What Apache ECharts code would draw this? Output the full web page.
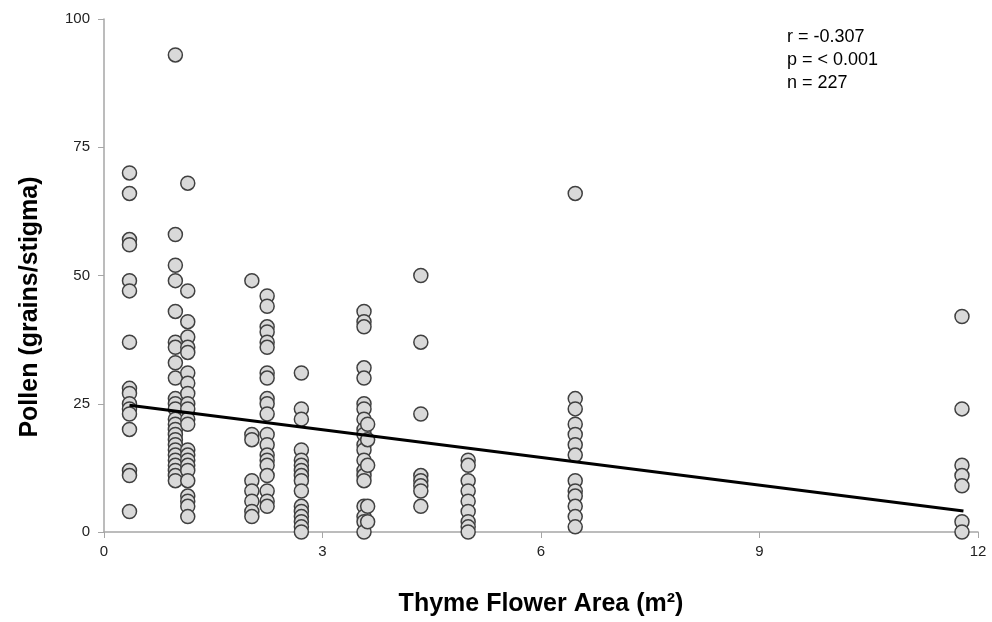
<!DOCTYPE html>
<html>
<head>
<meta charset="utf-8">
<script src="https://cdn.jsdelivr.net/npm/echarts@6/dist/echarts.min.js"></script>
<style>
  html, body { margin: 0; padding: 0; background: #fff; }
  #chart { width: 992px; height: 622px; }
</style>
</head>
<body>
<div id="chart"></div>
<script>
// flower area (m2) of each patch, and pollen counts
const areas = [0.35, 0.98, 1.15, 2.03, 2.24, 2.71, 3.57, 3.62, 4.35, 5.0, 6.47, 11.78]
const pollen = [
  [70, 66, 57, 56, 49, 47, 37, 28, 27, 25, 24, 23, 20, 12, 11, 4],
  [93, 58, 52, 49, 43, 37, 36, 33, 30, 26, 25, 24, 22, 21, 20, 19, 18, 17, 16, 15, 14, 13, 12, 11, 10],
  [68, 47, 41, 38, 36, 35, 31, 29, 27, 25, 24, 22, 21, 16, 15, 14, 13, 12, 10, 7, 6, 5, 3],
  [49, 19, 18, 10, 8, 6, 4, 3],
  [46, 44, 40, 39, 37, 36, 31, 30, 26, 25, 23, 19, 17, 15, 14, 13, 11, 8, 6, 5],
  [31, 24, 22, 16, 14, 13, 12, 11, 10, 8, 5, 4, 3, 2, 1, 0],
  [43, 41, 40, 32, 30, 25, 24, 22, 20, 19, 17, 16, 14, 12, 11, 10, 5, 3, 2, 0],
  [21, 18, 13, 5, 2],
  [50, 37, 23, 11, 10, 9, 8, 5],
  [14, 13, 10, 8, 6, 4, 2, 1, 0],
  [66, 26, 24, 21, 19, 17, 15, 10, 8, 7, 5, 3, 1],
  [42, 24, 13, 11, 9, 2, 0]
]
// fitted trend line end points
const trendX = [0.35, 11.8]
const trendY = [24.7, 4.1]
const xTicks = [0, 12, 3]
const yTicks = [0, 100, 25]
const statsText = ['r = -0.307', 'p = < 0.001', 'n = 227']

const points = []
areas.forEach((a, i) => pollen[i].forEach(v => points.push([a, v])))

const chart = echarts.init(document.getElementById('chart'))
const narrow = "'Liberation Sans Narrow', 'Arial Narrow', 'Liberation Sans', sans-serif"

chart.setOption({
  animation: false,
  grid: { left: 104, right: 14, top: 19, bottom: 90, outerBoundsMode: 'none' },
  xAxis: {
    type: 'value',
    min: xTicks[0], max: xTicks[1], interval: xTicks[2],
    name: 'Thyme Flower Area (m²)',
    nameLocation: 'middle',
    nameGap: 60,
    nameTextStyle: { fontFamily: narrow, fontWeight: 'bold', fontSize: 25, color: '#000' },
    axisLine: { lineStyle: { color: '#a6a6a6', width: 1.5 } },
    axisTick: { inside: false, length: 6, lineStyle: { color: '#a6a6a6' } },
    axisLabel: { fontFamily: narrow, fontSize: 15, color: '#222', margin: 12 },
    splitLine: { show: false }
  },
  yAxis: {
    type: 'value',
    min: yTicks[0], max: yTicks[1], interval: yTicks[2],
    axisLine: { show: true, lineStyle: { color: '#a6a6a6', width: 1.5 } },
    axisTick: { show: true, length: 6, lineStyle: { color: '#a6a6a6' } },
    axisLabel: { fontFamily: narrow, fontSize: 15, color: '#222', margin: 14 },
    splitLine: { show: false }
  },
  graphic: [
    {
      type: 'text',
      x: 30, y: 307,
      rotation: Math.PI / 2,
      style: {
        text: 'Pollen (grains/stigma)',
        font: "bold 25px 'Liberation Sans', Arial, sans-serif",
        fill: '#000', align: 'center', verticalAlign: 'middle'
      }
    },
    ...statsText.map((t, i) => ({
      type: 'text',
      left: 787,
      top: 28 + i * 23,
      style: { text: t, font: "18px 'Liberation Sans', Arial, sans-serif", fill: '#000' }
    }))
  ],
  series: [
    {
      type: 'scatter',
      data: points,
      symbol: 'circle',
      symbolSize: 14,
      itemStyle: { color: '#d9d9d9', borderColor: '#404040', borderWidth: 1.5, opacity: 1 },
      z: 2
    },
    {
      type: 'line',
      data: trendX.map((x, i) => [x, trendY[i]]),
      symbol: 'none',
      lineStyle: { color: '#000', width: 3 },
      z: 3
    }
  ]
})
</script>
</body>
</html>
